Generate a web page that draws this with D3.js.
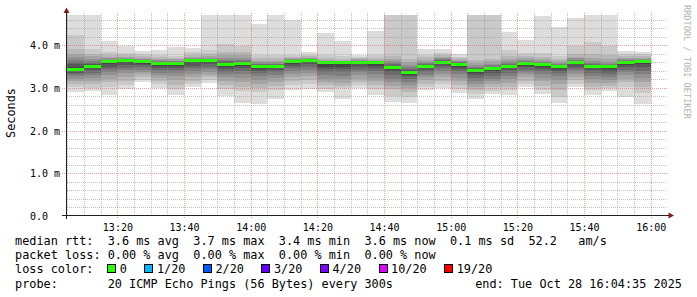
<!DOCTYPE html>
<html>
<head>
<meta charset="utf-8">
<script src="https://cdn.jsdelivr.net/npm/d3@7"></script>
<style>
  body { margin: 0; background: #fff; }
  text { font-family: "DejaVu Sans Mono", monospace; white-space: pre; }
</style>
</head>
<body>
<div id="chart"></div>
<script>
// ---- data ----
let day = "2025-10-28";
let rangeStart = "13:04:35";
let rangeEnd = "16:04:35";

let barStart = ["13:05","13:10","13:15","13:20","13:25","13:30","13:35","13:40","13:45","13:50",
  "13:55","14:00","14:05","14:10","14:15","14:20","14:25","14:30","14:35","14:40",
  "14:45","14:50","14:55","15:00","15:05","15:10","15:15","15:20","15:25","15:30",
  "15:35","15:40","15:45","15:50","15:55"];

// median rtt per step (ms)
let medianRtt = [3.43,3.51,3.61,3.63,3.61,3.58,3.58,3.63,3.64,3.55,
  3.58,3.49,3.51,3.62,3.65,3.59,3.59,3.60,3.59,3.48,
  3.36,3.51,3.60,3.55,3.41,3.46,3.51,3.56,3.55,3.51,
  3.60,3.51,3.49,3.59,3.62];

// 20 sorted ping times per step (ms)
let pings = [
  [2.91,3.01,3.10,3.17,3.22,3.27,3.32,3.36,3.40,3.42,3.45,3.50,3.55,3.60,3.66,3.72,3.80,3.90,4.24,4.75],
  [2.93,3.00,3.08,3.15,3.23,3.30,3.36,3.42,3.47,3.50,3.52,3.53,3.55,3.58,3.63,3.68,3.74,3.80,3.90,4.75],
  [2.83,3.02,3.13,3.22,3.30,3.37,3.44,3.50,3.55,3.58,3.60,3.61,3.62,3.64,3.66,3.69,3.73,3.78,3.85,4.10],
  [2.97,3.07,3.17,3.25,3.34,3.41,3.47,3.53,3.58,3.61,3.63,3.64,3.65,3.66,3.67,3.69,3.72,3.76,3.81,3.99],
  [3.13,3.19,3.26,3.32,3.38,3.43,3.48,3.53,3.57,3.60,3.61,3.62,3.63,3.64,3.66,3.68,3.71,3.75,3.79,3.87],
  [3.00,3.09,3.17,3.24,3.30,3.36,3.41,3.47,3.52,3.56,3.58,3.59,3.60,3.61,3.63,3.65,3.68,3.72,3.77,3.89],
  [2.83,2.97,3.07,3.18,3.28,3.35,3.41,3.47,3.52,3.56,3.58,3.59,3.60,3.61,3.62,3.64,3.67,3.71,3.75,3.95],
  [3.03,3.10,3.17,3.25,3.33,3.40,3.46,3.52,3.58,3.62,3.63,3.64,3.65,3.66,3.68,3.70,3.73,3.77,3.83,3.93],
  [3.12,3.18,3.25,3.31,3.38,3.44,3.50,3.55,3.59,3.62,3.63,3.64,3.65,3.66,3.68,3.71,3.75,3.80,3.88,4.75],
  [2.81,2.98,3.07,3.16,3.25,3.32,3.38,3.44,3.50,3.54,3.56,3.58,3.60,3.62,3.66,3.70,3.76,3.85,4.03,4.75],
  [2.65,2.92,3.03,3.14,3.24,3.32,3.40,3.46,3.52,3.56,3.58,3.59,3.60,3.62,3.65,3.69,3.76,3.85,3.97,4.75],
  [2.62,2.90,3.00,3.10,3.19,3.27,3.34,3.40,3.45,3.48,3.50,3.51,3.53,3.55,3.57,3.60,3.64,3.70,3.78,4.50],
  [2.75,2.94,3.04,3.14,3.23,3.30,3.37,3.42,3.47,3.50,3.51,3.52,3.53,3.55,3.57,3.60,3.64,3.70,3.77,4.75],
  [2.95,3.07,3.17,3.25,3.33,3.40,3.46,3.52,3.57,3.60,3.61,3.62,3.63,3.64,3.65,3.67,3.70,3.73,3.78,4.59],
  [2.97,3.08,3.18,3.27,3.35,3.42,3.49,3.55,3.60,3.63,3.64,3.65,3.66,3.67,3.68,3.69,3.71,3.74,3.77,3.85],
  [2.91,2.98,3.06,3.14,3.22,3.30,3.37,3.44,3.50,3.55,3.57,3.58,3.59,3.60,3.61,3.63,3.66,3.70,3.76,4.28],
  [2.75,2.99,3.04,3.12,3.21,3.29,3.37,3.44,3.50,3.55,3.56,3.57,3.58,3.59,3.60,3.62,3.64,3.68,3.74,4.11],
  [2.99,3.07,3.14,3.22,3.30,3.37,3.43,3.49,3.55,3.59,3.60,3.61,3.62,3.63,3.64,3.65,3.67,3.69,3.72,3.77],
  [2.84,2.97,3.06,3.15,3.24,3.32,3.39,3.46,3.52,3.56,3.57,3.58,3.59,3.60,3.61,3.63,3.66,3.70,3.77,4.34],
  [2.68,2.82,2.97,3.05,3.13,3.22,3.30,3.37,3.43,3.47,3.49,3.50,3.52,3.55,3.58,3.62,3.68,3.75,4.76,4.80],
  [2.65,2.79,2.91,2.99,3.06,3.14,3.21,3.27,3.31,3.35,3.37,3.39,3.42,3.45,3.49,3.54,3.60,3.68,4.76,4.80],
  [2.95,3.03,3.10,3.18,3.25,3.31,3.37,3.42,3.47,3.50,3.52,3.53,3.54,3.56,3.58,3.61,3.66,3.72,3.78,3.91],
  [2.99,3.08,3.17,3.25,3.33,3.40,3.46,3.51,3.56,3.59,3.61,3.62,3.63,3.65,3.67,3.69,3.72,3.76,3.82,3.91],
  [2.89,2.98,3.07,3.16,3.24,3.32,3.39,3.45,3.50,3.54,3.56,3.57,3.58,3.60,3.61,3.63,3.66,3.69,3.73,3.79],
  [2.75,2.85,2.96,3.03,3.10,3.17,3.24,3.30,3.35,3.39,3.41,3.42,3.44,3.46,3.49,3.53,3.58,3.65,4.76,4.80],
  [2.85,2.93,3.01,3.08,3.15,3.22,3.29,3.35,3.40,3.44,3.46,3.47,3.48,3.50,3.53,3.57,3.62,3.68,4.76,4.80],
  [2.83,2.94,3.03,3.12,3.20,3.28,3.35,3.41,3.46,3.50,3.52,3.53,3.54,3.56,3.58,3.62,3.68,3.75,3.89,4.31],
  [3.01,3.09,3.17,3.25,3.32,3.38,3.43,3.48,3.52,3.55,3.57,3.58,3.59,3.60,3.62,3.65,3.69,3.74,3.82,4.12],
  [2.86,2.96,3.05,3.15,3.24,3.32,3.39,3.45,3.50,3.54,3.56,3.57,3.58,3.59,3.61,3.64,3.68,3.73,3.81,4.68],
  [2.65,2.79,2.95,3.08,3.19,3.27,3.34,3.40,3.45,3.49,3.51,3.52,3.53,3.54,3.56,3.58,3.62,3.67,3.74,4.42],
  [3.03,3.10,3.18,3.26,3.33,3.39,3.45,3.50,3.55,3.59,3.61,3.62,3.63,3.64,3.66,3.69,3.73,3.80,3.97,4.64],
  [2.83,2.94,3.03,3.12,3.20,3.28,3.35,3.41,3.46,3.50,3.52,3.53,3.54,3.56,3.59,3.63,3.70,3.80,4.08,4.75],
  [2.93,2.99,3.05,3.12,3.19,3.26,3.32,3.38,3.44,3.48,3.50,3.51,3.52,3.54,3.57,3.61,3.68,3.78,3.98,4.75],
  [2.79,3.03,3.14,3.22,3.30,3.37,3.43,3.49,3.54,3.58,3.60,3.61,3.62,3.64,3.66,3.68,3.71,3.75,3.80,3.87],
  [2.63,2.88,3.03,3.13,3.23,3.32,3.40,3.48,3.55,3.60,3.62,3.63,3.64,3.65,3.66,3.68,3.71,3.75,3.79,3.85]
];

let xTickLabels = ["13:20","13:40","14:00","14:20","14:40","15:00","15:20","15:40","16:00"];
let yTickValues = [0, 1, 2, 3, 4];
let yTickLabels = ["0.0", "1.0 m", "2.0 m", "3.0 m", "4.0 m"];

let lossLabels = ["0", "1/20", "2/20", "3/20", "4/20", "10/20", "19/20"];
let lossColors = ["#26ff00", "#00b8ff", "#0059ff", "#5e00ff", "#7e00ff", "#dd00ff", "#ff0000"];

let legendRows = [
  "median rtt:  3.6 ms avg  3.7 ms max  3.4 ms min  3.6 ms now  0.1 ms sd  52.2   am/s",
  "packet loss: 0.00 % avg  0.00 % max  0.00 % min  0.00 % now",
  "loss color:",
  "probe:       20 ICMP Echo Pings (56 Bytes) every 300s"
];
let endText = "end: Tue Oct 28 16:04:35 2025";

// ---- layout ----
let svgWidth = 697;
let svgHeight = 297;
let plot = { left: 66, right: 666, top: 15, bottom: 216 };

let svg = d3.select("#chart")
  .append("svg")
  .attr("width", svgWidth)
  .attr("height", svgHeight);

svg.append("rect").attr("width", svgWidth).attr("height", svgHeight).attr("fill", "#fff");

let parseT = d3.timeParse("%Y-%m-%d %H:%M:%S");
let t = s => parseT(day + " " + (s.length === 5 ? s + ":00" : s));

let x = d3.scaleTime()
  .domain([t(rangeStart), t(rangeEnd)])
  .range([plot.left, plot.right]);

let y = d3.scaleLinear()
  .domain([0, (plot.bottom - plot.top) / 42.7])
  .range([plot.bottom, plot.top]);

svg.append("clipPath").attr("id", "plotClip")
  .append("rect")
  .attr("x", plot.left + 1).attr("y", plot.top)
  .attr("width", plot.right - plot.left).attr("height", plot.bottom - plot.top);

// smoke: layer i spans ping i .. ping (21-i), outer layers lighter
let smokeG = svg.append("g").attr("clip-path", "url(#plotClip)");
let half = 10;
for (let i = 1; i <= half; i++) {
  let c = Math.floor(190 / half * (half - i)) + 50;
  let shade = d3.rgb(c, c, c).formatHex();
  smokeG.selectAll(null)
    .data(barStart)
    .enter()
    .append("rect")
    .attr("x", d => x(t(d)))
    .attr("width", d => x(d3.timeMinute.offset(t(d), 5)) - x(t(d)))
    .attr("y", (d, k) => y(pings[k][20 - i]))
    .attr("height", (d, k) => y(pings[k][i - 1]) - y(pings[k][20 - i]))
    .attr("fill", shade)
    .attr("shape-rendering", "crispEdges");
}

// median bars (0 loss -> green)
smokeG.selectAll(null)
  .data(barStart)
  .enter()
  .append("rect")
  .attr("x", d => x(t(d)))
  .attr("width", d => x(d3.timeMinute.offset(t(d), 5)) - x(t(d)))
  .attr("y", (d, k) => y(medianRtt[k]) - 1.5)
  .attr("height", 3)
  .attr("fill", lossColors[0])
  .attr("shape-rendering", "crispEdges");

// grid (drawn over the smoke, like rrdtool)
let gridG = svg.append("g").attr("shape-rendering", "crispEdges");
let minorY = y.ticks(24).filter(v => v > 0 && Math.abs(v - Math.round(v)) > 1e-6);
gridG.selectAll(null).data(minorY).enter().append("line")
  .attr("x1", plot.left + 1).attr("x2", plot.right + 1)
  .attr("y1", d => Math.round(y(d)) + 0.5).attr("y2", d => Math.round(y(d)) + 0.5)
  .attr("stroke", "rgba(143,143,143,0.55)").attr("stroke-dasharray", "1,1");

let minorX = x.ticks(d3.timeMinute.every(5)).filter(d => d.getMinutes() % 20 !== 0);
gridG.selectAll(null).data(minorX).enter().append("line")
  .attr("x1", d => Math.round(x(d)) + 0.5).attr("x2", d => Math.round(x(d)) + 0.5)
  .attr("y1", plot.top - 2).attr("y2", plot.bottom)
  .attr("stroke", "rgba(143,143,143,0.55)").attr("stroke-dasharray", "1,1");

let majorY = yTickValues.filter(v => v > 0);
gridG.selectAll(null).data(majorY).enter().append("line")
  .attr("x1", plot.left - 4).attr("x2", plot.right + 1)
  .attr("y1", d => Math.round(y(d)) + 0.5).attr("y2", d => Math.round(y(d)) + 0.5)
  .attr("stroke", "rgba(222,80,80,0.55)").attr("stroke-dasharray", "1,1");

let majorX = xTickLabels.map(t);
gridG.selectAll(null).data(majorX).enter().append("line")
  .attr("x1", d => Math.round(x(d)) + 0.5).attr("x2", d => Math.round(x(d)) + 0.5)
  .attr("y1", plot.top - 2).attr("y2", plot.bottom + 3)
  .attr("stroke", "rgba(222,80,80,0.55)").attr("stroke-dasharray", "1,1");

// axes lines + arrows
svg.append("line")
  .attr("x1", 66.5).attr("x2", 66.5).attr("y1", 12).attr("y2", 219)
  .attr("stroke", "#1f1f1f");
svg.append("line")
  .attr("x1", 62).attr("x2", 670).attr("y1", 215.5).attr("y2", 215.5)
  .attr("stroke", "#1f1f1f");
svg.append("path").attr("d", "M66.5,7.5 L63.5,13 L69.5,13 Z").attr("fill", "#7f1f1f");
svg.append("path").attr("d", "M674,215.5 L668.5,212.5 L668.5,218.5 Z").attr("fill", "#7f1f1f");

// tick labels through d3 axes
let bottomAxis = d3.axisBottom(x)
  .tickValues(majorX)
  .tickFormat(d3.timeFormat("%H:%M"))
  .tickSize(0)
  .tickPadding(8);
let xAxisG = svg.append("g")
  .attr("transform", `translate(0, ${plot.bottom})`)
  .call(bottomAxis);
xAxisG.select(".domain").remove();
xAxisG.selectAll("text")
  .attr("font-family", "DejaVu Sans Mono")
  .attr("font-size", 10)
  .attr("fill", "#000");

let leftAxis = d3.axisLeft(y)
  .tickValues(yTickValues)
  .tickFormat((d, i) => yTickLabels[i])
  .tickSize(0);
let yAxisG = svg.append("g")
  .attr("transform", "translate(30, 0)")
  .call(leftAxis);
yAxisG.select(".domain").remove();
yAxisG.selectAll("text")
  .attr("text-anchor", "start")
  .attr("x", 0)
  .attr("dy", "0.36em")
  .attr("font-family", "DejaVu Sans Mono")
  .attr("font-size", 10)
  .attr("fill", "#000");

// y axis title
svg.append("text")
  .attr("transform", "translate(15, 113) rotate(-90)")
  .attr("text-anchor", "middle")
  .attr("font-size", 11.85)
  .attr("fill", "#000")
  .text("Seconds");

// watermark
svg.append("text")
  .attr("transform", "translate(684, 5) rotate(90)")
  .attr("font-size", 8.6)
  .attr("fill", "#b4b4b4")
  .text("RRDTOOL / TOBI OETIKER");

// legend
let rowBase = [245, 259.2, 273.4, 287.6];
svg.selectAll(null)
  .data(legendRows)
  .enter()
  .append("text")
  .attr("x", 15)
  .attr("y", (d, i) => rowBase[i])
  .attr("font-size", 11.85)
  .attr("fill", "#000")
  .text(d => d);

svg.append("text")
  .attr("x", 682)
  .attr("y", rowBase[3])
  .attr("text-anchor", "end")
  .attr("font-size", 11.85)
  .attr("fill", "#000")
  .text(endText);

// loss colour swatches
let charW = 7.13;
let bx = 107.3;
lossLabels.forEach(function(lab, i) {
  svg.append("rect")
    .attr("x", Math.round(bx) + 0.5).attr("y", 264.5)
    .attr("width", 8).attr("height", 8)
    .attr("fill", lossColors[i])
    .attr("stroke", "#000");
  svg.append("text")
    .attr("x", bx + 12.5)
    .attr("y", rowBase[2])
    .attr("font-size", 11.85)
    .attr("fill", "#000")
    .text(lab);
  bx = bx + 12.5 + lab.length * charW + 17.5;
});
</script>
</body>
</html>
